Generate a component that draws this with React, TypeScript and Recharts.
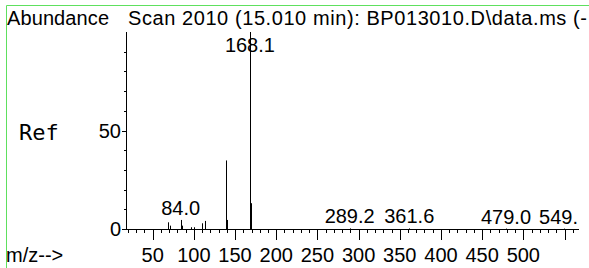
import React from 'react';
import { ComposedChart, Bar, XAxis, YAxis } from 'recharts';

// ---- data ----
const mzValues = [69, 71, 84, 86, 97, 100, 110, 113, 139, 140, 168.1, 169, 289.2, 361.6, 479.0, 549];
const abundances = [3.4, 1.7, 4.6, 1.7, 0.9, 0.9, 2.9, 4.1, 34.8, 4.6, 100, 13.1, 0.3, 0.3, 0.2, 0.2];
const peakLabels = ['', '', '84.0', '', '', '', '', '', '', '', '168.1', '', '289.2', '361.6', '479.0', '549.'];

const xTicks = [20, 30, 40, 50, 60, 70, 80, 90, 100, 110, 120, 130, 140, 150, 160, 170, 180, 190, 200, 210, 220, 230, 240, 250, 260, 270, 280, 290, 300, 310, 320, 330, 340, 350, 360, 370, 380, 390, 400, 410, 420, 430, 440, 450, 460, 470, 480, 490, 500, 510, 520, 530, 540, 550, 560];
const xTickLabels = [50, 100, 150, 200, 250, 300, 350, 400, 450, 500];
const xMajorTicks = [50, 100, 150, 200, 250, 300, 350, 400, 450, 500, 550];
const yTicks = [0, 10, 20, 30, 40, 50, 60, 70, 80, 90];
const yTickLabels = [0, 50];
const xDomain = [17.6, 567.6];
const yDomain = [0, 100];

const titleText = 'Scan 2010 (15.010 min): BP013010.D\\data.ms (-';
const yTitle = 'Abundance';
const refText = 'Ref';
const xTitle = 'm/z-->';

const data = mzValues.map((mz, i) => ({ mz, abundance: abundances[i], label: peakLabels[i] }));

// ---- layout / style ----
const W = 589;
const H = 268;
const MARGIN = { top: 32, right: 10, bottom: 0, left: 0 };
const PLOT_RIGHT = W - MARGIN.right - 1;
const FONT = '"Liberation Sans", Arial, sans-serif';
const FS = 20;

const textWidth = (s: string) => {
  let w = 0;
  for (const c of s) w += c === '.' ? 0.278 : 0.556;
  return w * FS;
};

const Stick = (props: any) => {
  const { x, y, width, height, payload } = props;
  const cx = Math.round(x + width / 2) + 0.5;
  const label: string = payload && payload.label;
  let labelEl = null;
  if (label) {
    const w = textWidth(label);
    const base = Math.max(y - 5, MARGIN.top + 20);
    let anchor: 'middle' | 'end' = 'middle';
    let tx = x + width / 2;
    if (tx + w / 2 > PLOT_RIGHT) {
      anchor = 'end';
      tx = PLOT_RIGHT;
    }
    labelEl = (
      <text x={tx} y={base} textAnchor={anchor} fontSize={FS} fontFamily={FONT} fill="#000">
        {label}
      </text>
    );
  }
  return (
    <g>
      <line x1={cx} x2={cx} y1={y} y2={y + height} stroke="#000" strokeWidth={1} />
      {labelEl}
    </g>
  );
};

const XTick = (props: any) => {
  const { x, y, payload } = props;
  const v = payload.value;
  const major = xMajorTicks.includes(v);
  const px = Math.round(x) + 0.5;
  return (
    <g>
      <line x1={px} x2={px} y1={y} y2={y + (major ? 11 : 4)} stroke="#000" strokeWidth={1} />
      {xTickLabels.includes(v) && (
        <text x={x} y={y + 33} textAnchor="middle" fontSize={FS} fontFamily={FONT} fill="#000">
          {v}
        </text>
      )}
    </g>
  );
};

const YTick = (props: any) => {
  const { x, y, payload } = props;
  const v = payload.value;
  const major = yTickLabels.includes(v);
  const py = Math.round(y) + 0.5;
  return (
    <g>
      <line x1={x} x2={x - (major ? 4 : 2)} y1={py} y2={py} stroke="#000" strokeWidth={1} />
      {major && (
        <text x={x - 5} y={y + 7} textAnchor="end" fontSize={FS} fontFamily={FONT} fill="#000">
          {v}
        </text>
      )}
    </g>
  );
};

export default function App() {
  return (
    <div style={{ position: 'absolute', left: 0, top: 0, width: W, height: H, background: '#fff', overflow: 'hidden' }}>
      <ComposedChart width={W} height={H} data={data} margin={MARGIN}>
        <XAxis
          dataKey="mz"
          type="number"
          domain={xDomain}
          allowDataOverflow
          ticks={xTicks}
          interval={0}
          tick={<XTick />}
          tickLine={false}
          tickSize={0}
          tickMargin={0}
          height={39}
          axisLine={{ stroke: '#000', shapeRendering: 'crispEdges' }}
        />
        <YAxis
          type="number"
          domain={yDomain}
          ticks={yTicks}
          interval={0}
          tick={<YTick />}
          tickLine={false}
          tickSize={0}
          tickMargin={0}
          width={126}
          axisLine={{ stroke: '#000', shapeRendering: 'crispEdges' }}
        />
        <Bar dataKey="abundance" barSize={1} shape={<Stick />} isAnimationActive={false} />
      </ComposedChart>
      <svg
        width={W}
        height={H}
        style={{ position: 'absolute', left: 0, top: 0, pointerEvents: 'none' }}
      >
        <path d={`M6.5 ${H} L6.5 5.5 L${W} 5.5`} fill="none" stroke="#5ee05e" strokeWidth={1} />
        <text x={7} y={25} fontSize={FS} fontFamily={FONT} fill="#000" textLength={102} lengthAdjust="spacing">{yTitle}</text>
        <text x={128} y={25} fontSize={FS} fontFamily={FONT} fill="#000" textLength={459} lengthAdjust="spacing">{titleText}</text>
        <text x={19} y={140} fontSize={22} fontFamily='"DejaVu Sans Mono", monospace' fill="#000">{refText}</text>
        <text x={6} y={262} fontSize={FS} fontFamily={FONT} fill="#000">{xTitle}</text>
      </svg>
    </div>
  );
}
